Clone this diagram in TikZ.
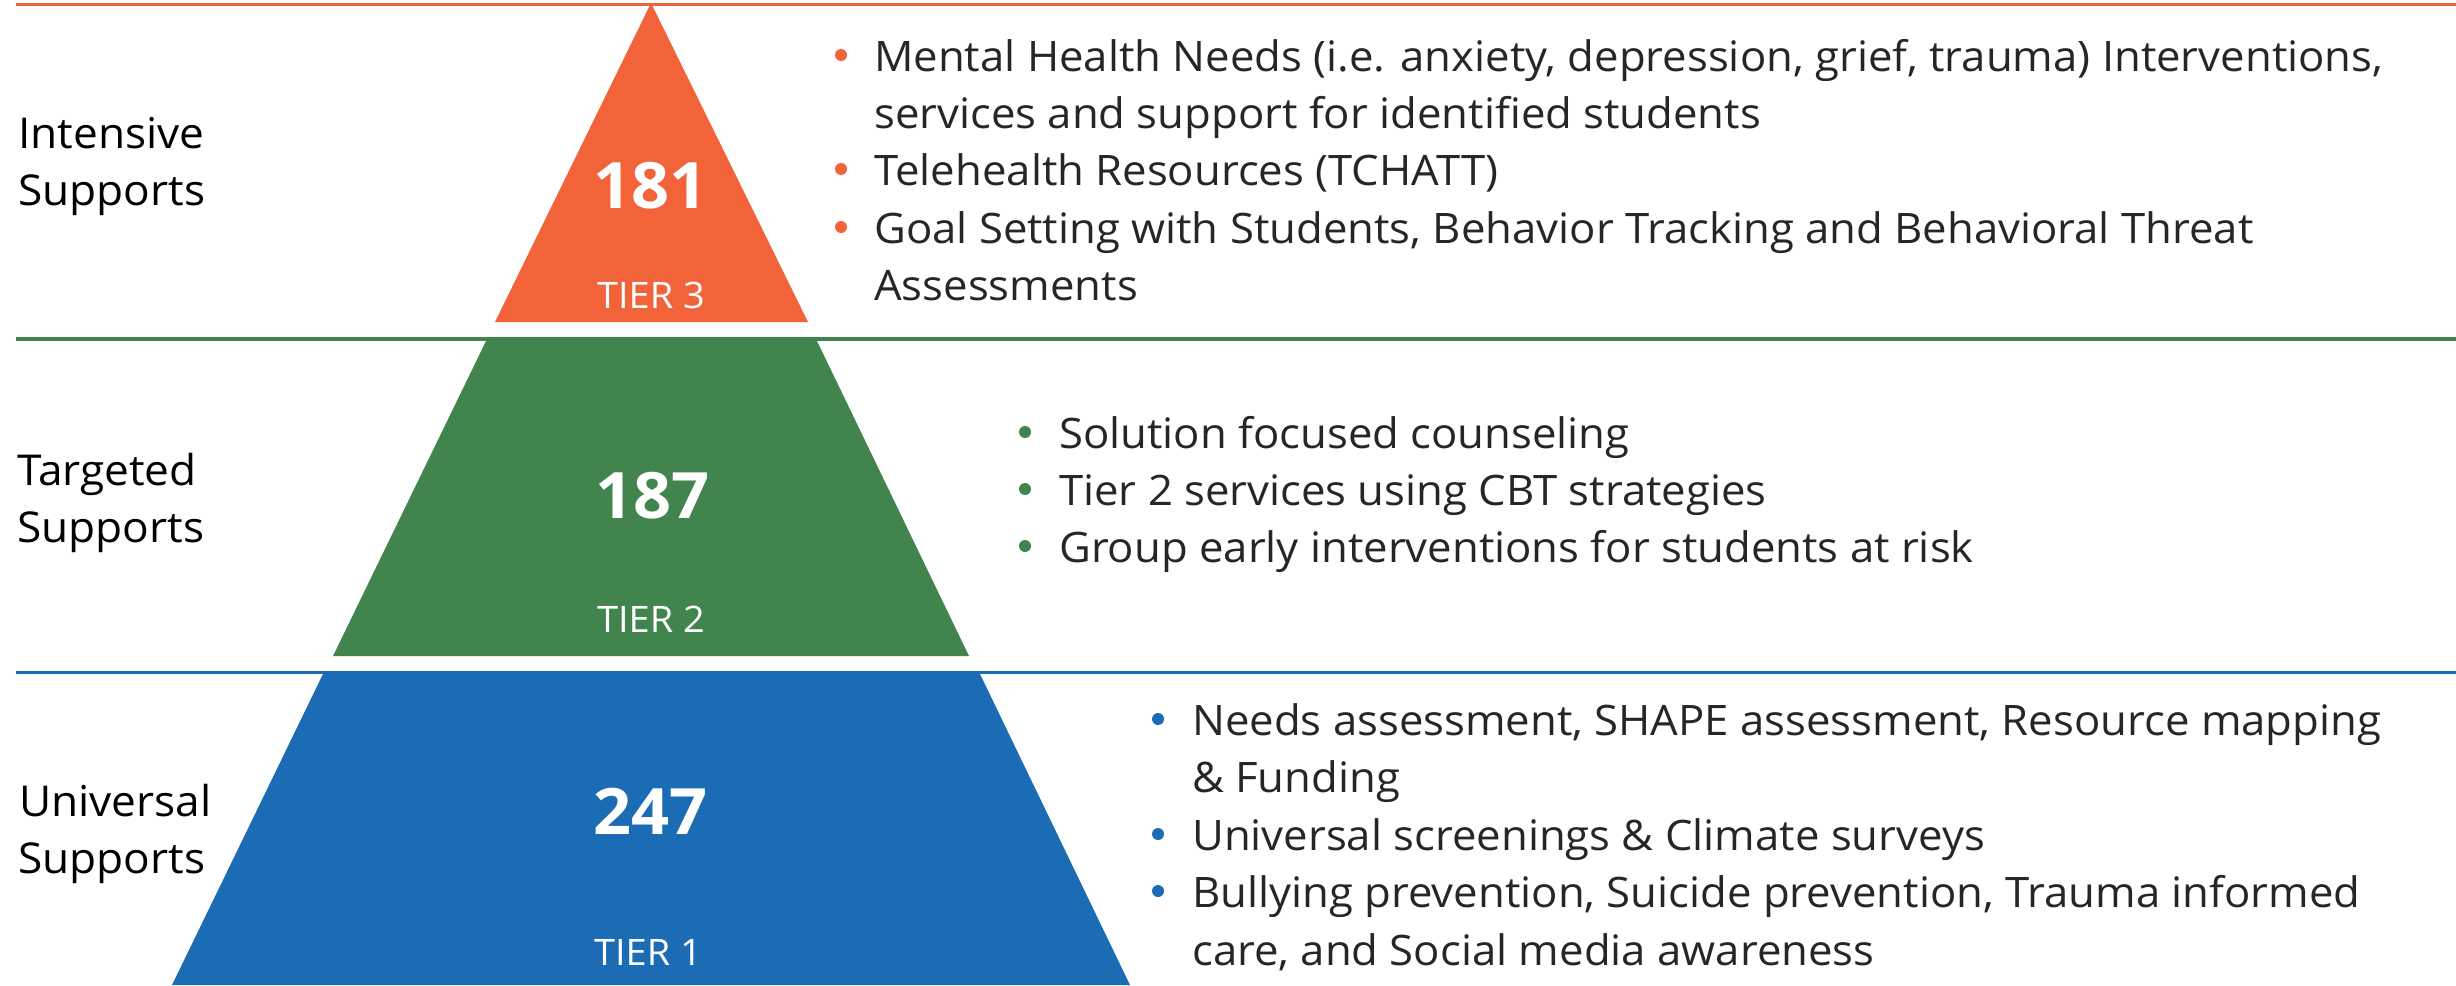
\documentclass[tikz,border=0pt]{standalone}
\usepackage{fontspec}
\setmainfont[FakeStretch=1.04]{Open Sans}
\definecolor{tierorange}{HTML}{F26339}
\definecolor{tiergreen}{HTML}{41844E}
\definecolor{tierblue}{HTML}{1B6CB5}
\definecolor{bodytext}{HTML}{262626}
\begin{document}
\begin{tikzpicture}[x=1pt,y=-1pt,
  rule/.style={line width=3.5pt},
  sidelabel/.style={anchor=base west, inner sep=0pt, font=\fontsize{42.5}{57}\selectfont, text=black},
  bullettext/.style={anchor=base west, inner sep=0pt, font=\fontsize{42}{57}\selectfont, text=bodytext},
  tiercount/.style={anchor=base, inner sep=0pt, font=\fontsize{64}{64}\selectfont\bfseries, text=white},
  tiername/.style={anchor=base, inner sep=0pt, font=\fontsize{36.5}{36}\selectfont, text=white},
  bulletdot/.style={circle, inner sep=0pt, minimum size=12pt}
]
\useasboundingbox (0,0) rectangle (2456,985);

% pyramid pieces
\fill[tierorange] (651,3) -- (808,322) -- (495,322) -- cycle;
\fill[tiergreen] (486,341) -- (817,341) -- (969,656) -- (333,656) -- cycle;
\fill[tierblue] (323,674) -- (980,674) -- (1130,985) -- (172,985) -- cycle;

% tier rules
\coordinate (r3a) at (16,4.5);   \coordinate (r3b) at (2456,4.5);
\coordinate (r2a) at (16,339);   \coordinate (r2b) at (2456,339);
\coordinate (r1a) at (16,672.5); \coordinate (r1b) at (2456,672.5);
\draw[rule, tierorange] (r3a) -- (r3b);
\draw[rule, tiergreen] (r2a) -- (r2b);
\draw[rule, tierblue] (r1a) -- (r1b);

% side labels
\node[sidelabel] (l3a) at (18,148) {Intensive};
\node[sidelabel] (l3b) at (18,205) {Supports};
\node[sidelabel] (l2a) at (17,485) {Targeted};
\node[sidelabel] (l2b) at (17,542) {Supports};
\node[sidelabel] (l1a) at (19,816) {Universal};
\node[sidelabel] (l1b) at (18,873) {Supports};

% counts and tier names
\node[tiercount] (c3) at (650,208) {181};
\node[tiername] (n3) at (651,308) {TIER 3};
\node[tiercount] (c2) at (652,518) {187};
\node[tiername] (n2) at (651,632) {TIER 2};
\node[tiercount] (c1) at (650,834) {247};
\node[tiername] (n1) at (648,965) {TIER 1};

% tier 3 items
\node[bulletdot, fill=tierorange] (d3a) at (841,55) {};
\node[bulletdot, fill=tierorange] (d3b) at (841,169) {};
\node[bulletdot, fill=tierorange] (d3c) at (841,227) {};
\node[bullettext] (t3a) at (874,71) {Mental Health Needs (i.e. anxiety, depression, grief, trauma) Interventions,};
\node[bullettext] (t3b) at (874,128) {services and support for identified students};
\node[bullettext] (t3c) at (874,185) {Telehealth Resources (TCHATT)};
\node[bullettext] (t3d) at (874,243) {Goal Setting with Students, Behavior Tracking and Behavioral Threat};
\node[bullettext] (t3e) at (874,300) {Assessments};

% tier 2 items
\node[bulletdot, fill=tiergreen] (d2a) at (1025,432) {};
\node[bulletdot, fill=tiergreen] (d2b) at (1025,489) {};
\node[bulletdot, fill=tiergreen] (d2c) at (1025,546) {};
\node[bullettext] (t2a) at (1059,448) {Solution focused counseling};
\node[bullettext] (t2b) at (1059,505) {Tier 2 services using CBT strategies};
\node[bullettext] (t2c) at (1059,562) {Group early interventions for students at risk};

% tier 1 items
\node[bulletdot, fill=tierblue] (d1a) at (1158,719) {};
\node[bulletdot, fill=tierblue] (d1b) at (1158,834) {};
\node[bulletdot, fill=tierblue] (d1c) at (1158,891) {};
\node[bullettext] (t1a) at (1192,735) {Needs assessment, SHAPE assessment, Resource mapping};
\node[bullettext] (t1b) at (1192,792) {\& Funding};
\node[bullettext] (t1c) at (1192,850) {Universal screenings \& Climate surveys};
\node[bullettext] (t1d) at (1192,907) {Bullying prevention, Suicide prevention, Trauma informed};
\node[bullettext] (t1e) at (1192,965) {care, and Social media awareness};
\end{tikzpicture}
\end{document}
